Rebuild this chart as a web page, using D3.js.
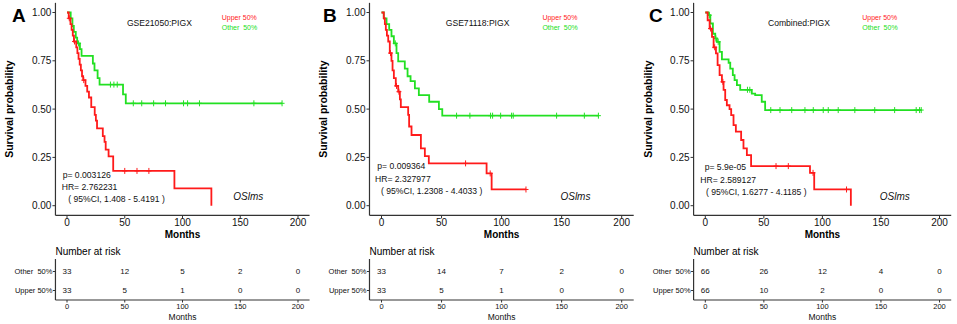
<!DOCTYPE html>
<html>
<head>
<meta charset="utf-8">
<script src="https://cdn.jsdelivr.net/npm/d3@7"></script>
<style>
  body { margin: 0; background: #fff; }
  svg { font-family: "Liberation Sans", Arial, sans-serif; }
</style>
</head>
<body>
<svg id="chart" width="957" height="324"></svg>
<script>
// ---- data ----
const panelLetters = ["A", "B", "C"];
const titles = ["GSE21050:PIGX", "GSE71118:PIGX", "Combined:PIGX"];
const pTexts = ["p= 0.003126", "p= 0.009364", "p= 5.9e-05"];
const hrTexts = ["HR= 2.762231", "HR= 2.327977", "HR= 2.589127"];
const ciTexts = ["( 95%CI, 1.408 - 5.4191 )", "( 95%CI, 1.2308 - 4.4033 )", "( 95%CI, 1.6277 - 4.1185 )"];
const groups = ["Other  50%", "Upper 50%"];
const xTicks = [0, 50, 100, 150, 200];
const yTicks = [0, 0.25, 0.5, 0.75, 1];
const riskTimes = [0, 50, 100, 150, 200];
const riskOther = [[33, 12, 5, 2, 0], [33, 14, 7, 2, 0], [66, 26, 12, 4, 0]];
const riskUpper = [[33, 5, 1, 0, 0], [33, 5, 1, 0, 0], [66, 10, 2, 0, 0]];

// step curves: [months, survival after the drop]
const upperA = [[0,1],[1.5,0.97],[3,0.94],[4,0.91],[5,0.88],[6,0.85],[8,0.82],[9,0.79],[10,0.76],[11,0.73],[12,0.70],[13,0.67],[14,0.65],[16,0.62],[17.5,0.59],[19,0.56],[21,0.51],[24,0.47],[25,0.44],[26,0.40],[31,0.36],[32.5,0.33],[33.5,0.29],[36,0.255],[40,0.18],[93,0.09],[125,0]];
const otherA = [[0,1],[3.2,0.97],[4.7,0.93],[5.9,0.90],[7.6,0.87],[8.8,0.84],[11.2,0.81],[12.6,0.776],[22.4,0.736],[23.8,0.70],[26.5,0.66],[28.2,0.627],[48.5,0.576],[50.9,0.53],[186.2,0.53]];
const upperB = [[0,1],[1.9,0.97],[2.8,0.94],[3.6,0.91],[4.5,0.88],[5.6,0.85],[6.9,0.79],[8.3,0.75],[9.2,0.70],[10.3,0.66],[11.9,0.62],[13.9,0.59],[15.3,0.55],[16.1,0.51],[22.2,0.47],[23,0.41],[25,0.366],[32.8,0.297],[36.1,0.257],[39.4,0.219],[87.5,0.167],[91.7,0.084],[120.3,0.084]];
const otherB = [[0,1],[1.9,0.97],[4.2,0.94],[6.4,0.91],[8.3,0.877],[10.3,0.84],[12.5,0.79],[13.9,0.747],[19.4,0.71],[21.7,0.67],[24.2,0.645],[27.8,0.607],[31.1,0.572],[39.7,0.538],[47.8,0.50],[50.6,0.466],[180.6,0.466]];
const upperC = [[0,1],[2,0.96],[3.7,0.917],[5.7,0.874],[7.1,0.82],[9.1,0.788],[10.5,0.728],[12.2,0.676],[14.2,0.641],[15.6,0.60],[17,0.547],[18.4,0.52],[20.7,0.50],[22.1,0.469],[24.1,0.417],[26.1,0.383],[30.6,0.34],[32.6,0.297],[35.5,0.262],[39.1,0.205],[89.4,0.17],[93,0.084],[124.3,0]];
const otherC = [[0,1],[2.8,0.986],[4.3,0.943],[6.5,0.89],[8.5,0.866],[9.9,0.848],[12.2,0.796],[14.2,0.757],[19.9,0.74],[21.3,0.71],[23.5,0.676],[25,0.65],[27,0.624],[29.8,0.60],[39.7,0.58],[42.6,0.572],[48.2,0.538],[51.1,0.495],[184.4,0.495]];

// censor times
const upperCensA = [2, 6.5, 14.5, 50, 60.6, 70.9];
const otherCensA = [10, 37.6, 40.6, 43.5, 57.4, 64.7, 75, 85.3, 100.9, 104.4, 114.7, 161.8, 186.2];
const upperCensB = [7.5, 12.5, 14.5, 70, 90.5, 120.3];
const otherCensB = [11.5, 62.5, 73.6, 90.8, 92.5, 99.2, 108.3, 109.7, 145.8, 168.9, 180.6];
const upperCensC = [4.5, 8, 15, 60.4, 70.9, 92, 120.6];
const otherCensC = [3.5, 9, 11, 36, 38, 55.9, 63.8, 73.8, 85.1, 92.2, 100.7, 105, 113.5, 127.7, 144.7, 161.7, 180.1, 183, 184.4];

const upperCurves = [upperA, upperB, upperC];
const otherCurves = [otherA, otherB, otherC];
const upperCens = [upperCensA, upperCensB, upperCensC];
const otherCens = [otherCensA, otherCensB, otherCensC];

// ---- layout ----
const layout = [
  { x0: 67.0, x200: 298.0, letterX: 12, statDx: [-4.3, -5.3, 1.3], statY: [178, 190, 202], osMonth: 144 },
  { x0: 381.5, x200: 621.7, letterX: 323, statDx: [-4.2, -6.5, -0.5], statY: [169, 181.5, 194], osMonth: 149 },
  { x0: 705.3, x200: 939.5, letterX: 649, statDx: [-0.6, -5.0, 0.7], statY: [170, 182.5, 195], osMonth: 149 }
];
const RED = "#ff1a1a", GREEN = "#22e022", AXIS = "#333", TXT = "#111";

const svg = d3.select("#chart");
const y = d3.scaleLinear().domain([0, 1]).range([205.7, 12.5]);

function survAt(curve, t) {
  const i = d3.bisector(d => d[0]).right(curve, t) - 1;
  return curve[Math.max(0, i)][1];
}

layout.forEach(function(L, k) {
  const x = d3.scaleLinear().domain([0, 200]).range([L.x0, L.x200]);
  const left = x(-10), right = x(210);
  const top = y(1.05), bottom = y(-0.05);
  const g = svg.append("g");

  // panel letter
  g.append("text").attr("x", L.letterX).attr("y", 22)
    .attr("font-size", 19).attr("font-weight", "bold").attr("fill", "#000")
    .text(panelLetters[k]);

  // axes
  g.append("line").attr("x1", left).attr("x2", left).attr("y1", top).attr("y2", bottom)
    .attr("stroke", AXIS).attr("stroke-width", 1.2);
  g.append("line").attr("x1", left).attr("x2", right).attr("y1", bottom).attr("y2", bottom)
    .attr("stroke", AXIS).attr("stroke-width", 1.2);

  yTicks.forEach(function(v) {
    g.append("line").attr("x1", left - 3).attr("x2", left).attr("y1", y(v)).attr("y2", y(v))
      .attr("stroke", AXIS);
    g.append("text").attr("x", left - 4).attr("y", y(v)).attr("dy", "0.35em")
      .attr("text-anchor", "end").attr("font-size", 10).attr("fill", TXT)
      .text(d3.format(".2f")(v));
  });
  xTicks.forEach(function(v) {
    g.append("line").attr("x1", x(v)).attr("x2", x(v)).attr("y1", bottom).attr("y2", bottom + 3)
      .attr("stroke", AXIS);
    g.append("text").attr("x", x(v)).attr("y", 226)
      .attr("text-anchor", "middle").attr("font-size", 10).attr("fill", TXT).text(v);
  });

  g.append("text").attr("x", (x(0) + x(200)) / 2).attr("y", 237.5)
    .attr("text-anchor", "middle").attr("font-size", 10).attr("font-weight", "bold")
    .attr("fill", "#000").text("Months");
  g.append("text")
    .attr("transform", "translate(" + (left - 42) + "," + ((top + bottom) / 2) + ") rotate(-90)")
    .attr("text-anchor", "middle").attr("font-size", 10.5).attr("font-weight", "bold")
    .attr("fill", "#000").text("Survival probability");

  // curves
  const line = d3.line().x(d => x(d[0])).y(d => y(d[1])).curve(d3.curveStepAfter);
  [[otherCurves[k], otherCens[k], GREEN], [upperCurves[k], upperCens[k], RED]].forEach(function(s) {
    g.append("path").datum(s[0]).attr("d", line).attr("fill", "none")
      .attr("stroke", s[2]).attr("stroke-width", 1.8);
    g.selectAll(null).data(s[1]).enter().append("path")
      .attr("d", function(t) {
        const cx = x(t), cy = y(survAt(s[0], t));
        return "M" + cx + "," + (cy - 3) + "V" + (cy + 3) + "M" + (cx - 2.5) + "," + cy + "H" + (cx + 2.5);
      })
      .attr("stroke", s[2]).attr("stroke-width", 1).attr("fill", "none");
  });

  // annotations
  g.append("text").attr("x", x(80)).attr("y", 25.7).attr("text-anchor", "middle")
    .attr("font-size", 8.6).attr("fill", TXT).text(titles[k]);
  g.append("text").attr("x", x(134)).attr("y", 20).attr("font-size", 7)
    .attr("fill", RED).text("Upper 50%");
  g.append("text").attr("x", x(134)).attr("y", 30).attr("font-size", 7)
    .attr("fill", GREEN).attr("xml:space", "preserve").text("Other  50%");

  [pTexts[k], hrTexts[k], ciTexts[k]].forEach(function(t, j) {
    g.append("text").attr("x", x(0) + L.statDx[j]).attr("y", L.statY[j])
      .attr("font-size", 8.6).attr("fill", TXT).attr("xml:space", "preserve").text(t);
  });
  g.append("text").attr("x", x(L.osMonth)).attr("y", 199.5).attr("font-size", 10)
    .attr("font-style", "italic").attr("fill", TXT).text("OSlms");

  // risk table
  const ty = d3.scalePoint().domain(groups).range([271.5, 290.5]);
  const tTop = 259, tBottom = 300;
  g.append("text").attr("x", left).attr("y", 255).attr("font-size", 10)
    .attr("fill", "#000").text("Number at risk");
  g.append("line").attr("x1", left).attr("x2", left).attr("y1", tTop).attr("y2", tBottom)
    .attr("stroke", AXIS).attr("stroke-width", 1.2);
  g.append("line").attr("x1", left).attr("x2", right).attr("y1", tBottom).attr("y2", tBottom)
    .attr("stroke", AXIS).attr("stroke-width", 1.2);
  groups.forEach(function(grp, gi) {
    g.append("line").attr("x1", left - 2.5).attr("x2", left).attr("y1", ty(grp)).attr("y2", ty(grp))
      .attr("stroke", AXIS);
    g.append("text").attr("x", left - 3).attr("y", ty(grp)).attr("dy", "0.35em")
      .attr("text-anchor", "end").attr("font-size", 7.5).attr("fill", TXT)
      .attr("xml:space", "preserve").text(grp);
    const vals = gi === 0 ? riskOther[k] : riskUpper[k];
    vals.forEach(function(v, i) {
      g.append("text").attr("x", x(riskTimes[i])).attr("y", ty(grp)).attr("dy", "0.35em")
        .attr("text-anchor", "middle").attr("font-size", 8).attr("fill", TXT).text(v);
    });
  });
  xTicks.forEach(function(v) {
    g.append("line").attr("x1", x(v)).attr("x2", x(v)).attr("y1", tBottom).attr("y2", tBottom + 2.5)
      .attr("stroke", AXIS);
    g.append("text").attr("x", x(v)).attr("y", 308.5).attr("text-anchor", "middle")
      .attr("font-size", 7.5).attr("fill", TXT).text(v);
  });
  g.append("text").attr("x", (x(0) + x(200)) / 2).attr("y", 319.5).attr("text-anchor", "middle")
    .attr("font-size", 8.5).attr("fill", TXT).text("Months");
});
</script>
</body>
</html>
